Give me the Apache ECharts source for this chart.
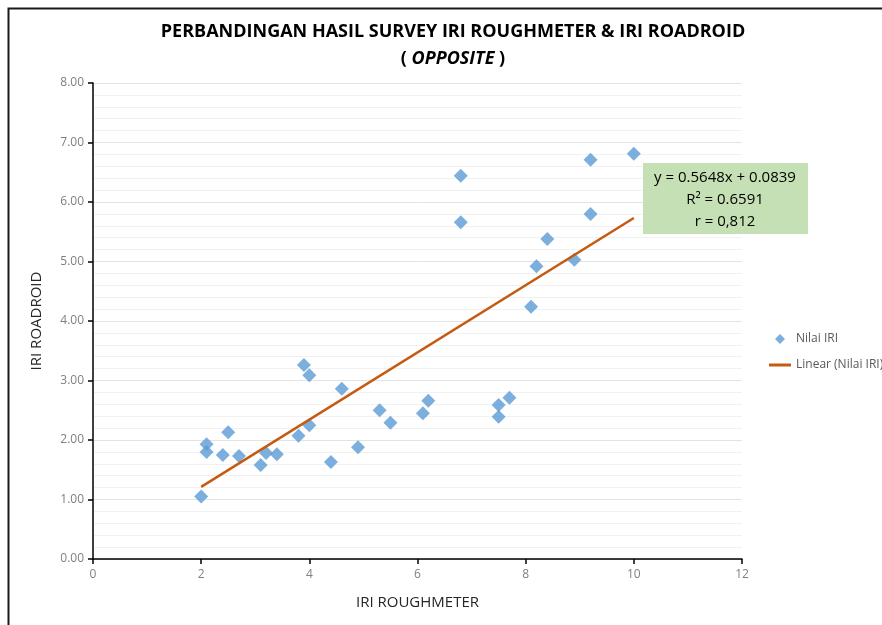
<!DOCTYPE html>
<html>
<head>
    <meta charset="UTF-8">
    <title>IRI Roughmeter vs Roadroid</title>
    <style type="text/css">
        html, body {margin: 0; padding: 0; background: #fff;}
        #chart {width: 882px; height: 625px;}
    </style>
</head>
<body>
    <div id="chart"></div>
<script type="text/javascript" src="https://cdn.jsdelivr.net/npm/echarts@6/dist/echarts.min.js"></script>
<script type="text/javascript">
// nilai
var iriRoughmeter = [2.0, 2.1, 2.1, 2.4, 2.5, 2.7, 3.1, 3.2, 3.4, 3.8, 3.9, 4.0, 4.0, 4.4, 4.6, 4.9,
                     5.3, 5.5, 6.1, 6.2, 6.8, 6.8, 7.5, 7.5, 7.7, 8.1, 8.2, 8.4, 8.9, 9.2, 9.2, 10.0];
var iriRoadroid = [1.05, 1.93, 1.80, 1.75, 2.13, 1.73, 1.58, 1.78, 1.76, 2.07, 3.26, 3.09, 2.25, 1.63, 2.86, 1.88,
                   2.50, 2.29, 2.45, 2.66, 6.44, 5.66, 2.59, 2.39, 2.71, 4.24, 4.92, 5.38, 5.03, 5.80, 6.71, 6.81];
var trendX = [2, 10];
var trendY = [1.213, 5.732];
var eqLines = ['y = 0.5648x + 0.0839', 'R\u00b2 = 0.6591', 'r = 0,812'];

var font = "'Open Sans', sans-serif";
var chart = echarts.init(document.getElementById('chart'));

function pairs(xs, ys) { return xs.map(function (x, i) { return [x, ys[i]]; }); }

var option = {
    backgroundColor: '#ffffff',
    animation: false,
    title: {
        left: 448, top: 13, textAlign: 'center',
        text: '{b|PERBANDINGAN HASIL SURVEY IRI ROUGHMETER & IRI ROADROID}\n{b|( }{i|OPPOSITE}{b| )}',
        textStyle: {
            rich: {
                b: {fontFamily: font, fontWeight: 'bold', fontSize: 18, color: '#000', lineHeight: 27},
                i: {fontFamily: font, fontWeight: 'bold', fontStyle: 'italic', fontSize: 18, color: '#000', lineHeight: 27}
            }
        }
    },
    grid: {left: 93, top: 83, width: 649, height: 476, containLabel: false},
    legend: {
        orient: 'vertical', left: 764, top: 328, itemGap: 14,
        itemWidth: 22, itemHeight: 10,
        textStyle: {fontFamily: font, fontSize: 12, color: '#595959'},
        data: [
            {name: 'Nilai IRI', icon: 'path://M5,0 L10,5 L5,10 L0,5 Z'},
            {name: 'Linear (Nilai IRI)', icon: 'path://M0,0 L22,0 L22,3 L0,3 Z'}
        ]
    },
    xAxis: {
        type: 'value', min: 0, max: 12, interval: 2,
        name: 'IRI ROUGHMETER', nameLocation: 'middle', nameGap: 36,
        nameTextStyle: {fontFamily: font, fontSize: 15, color: '#262626'},
        axisLine: {show: true, onZero: false, lineStyle: {color: '#000', width: 1.5}},
        axisTick: {show: true, length: 5, lineStyle: {color: '#000', width: 1.5}},
        axisLabel: {fontFamily: font, fontSize: 12, color: '#7f7f7f', margin: 10},
        splitLine: {show: false}
    },
    yAxis: {
        type: 'value', min: 0, max: 8, interval: 1,
        name: 'IRI ROADROID', nameLocation: 'middle', nameGap: 49,
        nameTextStyle: {fontFamily: font, fontSize: 15, color: '#262626'},
        axisLine: {show: true, onZero: false, lineStyle: {color: '#000', width: 1.5}},
        axisTick: {show: true, length: 5, lineStyle: {color: '#000', width: 1.5}},
        axisLabel: {fontFamily: font, fontSize: 12, color: '#7f7f7f', margin: 9,
            formatter: function (v) { return v.toFixed(2); }},
        splitLine: {show: true, lineStyle: {color: '#e3e3e3', width: 1}},
        minorTick: {show: false, splitNumber: 5},
        minorSplitLine: {show: true, lineStyle: {color: '#f1f1f1', width: 1}}
    },
    graphic: [
        {type: 'rect', left: 6, top: 6, shape: {width: 920, height: 700},
         style: {fill: 'none', stroke: '#1a1a1a', lineWidth: 2}, silent: true, z: 0},
        {type: 'rect', left: 643, top: 163, shape: {width: 165, height: 71},
         style: {fill: '#c5e0b4'}, z: 10},
        {type: 'text', x: 725, y: 167, z: 11,
         style: {text: eqLines.join('\n'), textAlign: 'center', fill: '#000',
                 fontFamily: font, fontSize: 15, lineHeight: 22}}
    ],
    series: [
        {
            name: 'Nilai IRI', type: 'scatter', symbol: 'diamond', symbolSize: 14,
            itemStyle: {color: '#5b9bd5'},
            data: pairs(iriRoughmeter, iriRoadroid), z: 3
        },
        {
            name: 'Linear (Nilai IRI)', type: 'line', symbol: 'none',
            lineStyle: {color: '#c55a11', width: 2.5},
            itemStyle: {color: '#c55a11'},
            data: pairs(trendX, trendY), z: 4
        }
    ]
};
chart.setOption(option);
</script>
</body>
</html>
